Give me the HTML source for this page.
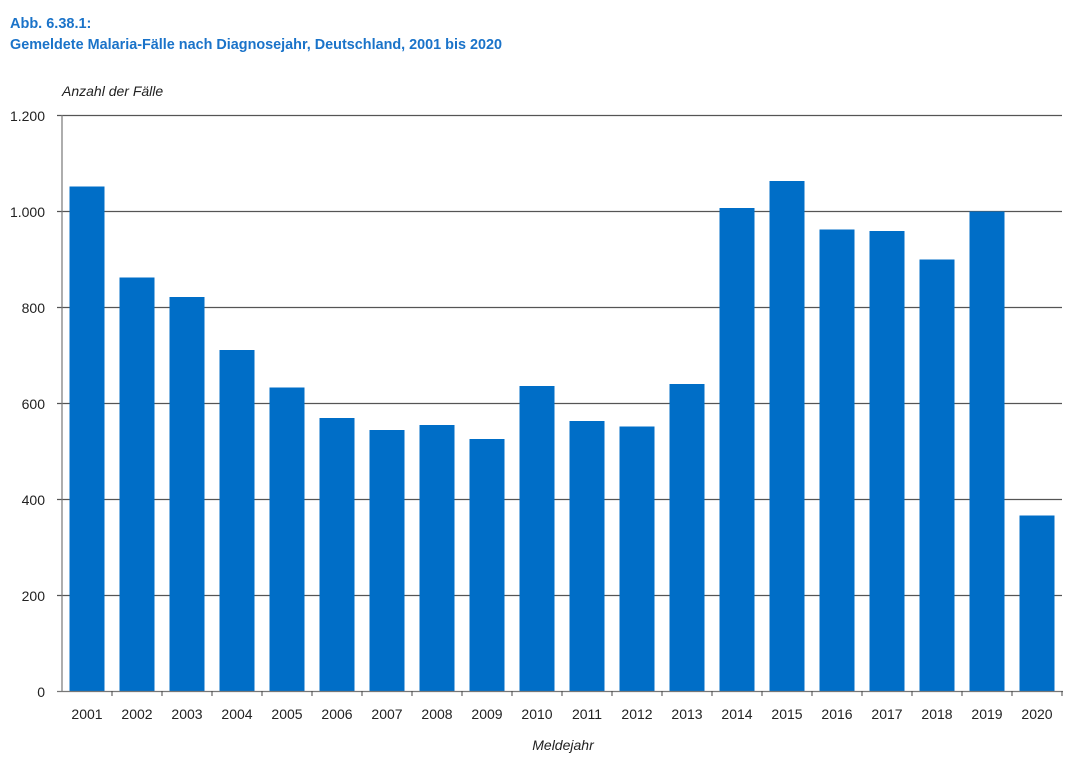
<!DOCTYPE html>
<html><head><meta charset="utf-8"><style>
html,body{margin:0;padding:0;background:#fff;}
svg{display:block;font-family:"Liberation Sans",sans-serif;}
</style></head><body>
<svg width="1080" height="767" viewBox="0 0 1080 767">
<text x="10" y="28" font-size="14.5" font-weight="bold" fill="#1a73c9">Abb. 6.38.1:</text>
<text x="10" y="49" font-size="14.5" font-weight="bold" fill="#1a73c9" textLength="492" lengthAdjust="spacingAndGlyphs">Gemeldete Malaria-Fälle nach Diagnosejahr, Deutschland, 2001 bis 2020</text>
<text x="62" y="96" font-size="14" font-style="italic" fill="#222">Anzahl der Fälle</text>
<g stroke="#555" stroke-width="1.2">
<line x1="57" y1="115.5" x2="1062" y2="115.5"/>
<line x1="57" y1="211.5" x2="1062" y2="211.5"/>
<line x1="57" y1="307.5" x2="1062" y2="307.5"/>
<line x1="57" y1="403.5" x2="1062" y2="403.5"/>
<line x1="57" y1="499.5" x2="1062" y2="499.5"/>
<line x1="57" y1="595.5" x2="1062" y2="595.5"/>
</g>
<g fill="#006ec7">
<rect x="69.5" y="186.5" width="35" height="505"/>
<rect x="119.5" y="277.5" width="35" height="414"/>
<rect x="169.5" y="297" width="35" height="394.5"/>
<rect x="219.5" y="350" width="35" height="341.5"/>
<rect x="269.5" y="387.5" width="35" height="304"/>
<rect x="319.5" y="418" width="35" height="273.5"/>
<rect x="369.5" y="430" width="35" height="261.5"/>
<rect x="419.5" y="425" width="35" height="266.5"/>
<rect x="469.5" y="439" width="35" height="252.5"/>
<rect x="519.5" y="386" width="35" height="305.5"/>
<rect x="569.5" y="421" width="35" height="270.5"/>
<rect x="619.5" y="426.5" width="35" height="265"/>
<rect x="669.5" y="384" width="35" height="307.5"/>
<rect x="719.5" y="208" width="35" height="483.5"/>
<rect x="769.5" y="181" width="35" height="510.5"/>
<rect x="819.5" y="229.5" width="35" height="462"/>
<rect x="869.5" y="231" width="35" height="460.5"/>
<rect x="919.5" y="259.5" width="35" height="432"/>
<rect x="969.5" y="211.5" width="35" height="480"/>
<rect x="1019.5" y="515.5" width="35" height="176"/>
</g>
<g stroke="#777" stroke-width="1.2">
<line x1="62" y1="115" x2="62" y2="692"/>
<line x1="57" y1="691.5" x2="1063" y2="691.5"/>
</g>
<g stroke="#444" stroke-width="1">
<line x1="112" y1="691" x2="112" y2="696"/><line x1="162" y1="691" x2="162" y2="696"/><line x1="212" y1="691" x2="212" y2="696"/><line x1="262" y1="691" x2="262" y2="696"/><line x1="312" y1="691" x2="312" y2="696"/><line x1="362" y1="691" x2="362" y2="696"/><line x1="412" y1="691" x2="412" y2="696"/><line x1="462" y1="691" x2="462" y2="696"/><line x1="512" y1="691" x2="512" y2="696"/><line x1="562" y1="691" x2="562" y2="696"/><line x1="612" y1="691" x2="612" y2="696"/><line x1="662" y1="691" x2="662" y2="696"/><line x1="712" y1="691" x2="712" y2="696"/><line x1="762" y1="691" x2="762" y2="696"/><line x1="812" y1="691" x2="812" y2="696"/><line x1="862" y1="691" x2="862" y2="696"/><line x1="912" y1="691" x2="912" y2="696"/><line x1="962" y1="691" x2="962" y2="696"/><line x1="1012" y1="691" x2="1012" y2="696"/><line x1="1062" y1="691" x2="1062" y2="696"/>
</g>
<g font-size="14" fill="#222" text-anchor="end">
<text x="45" y="121">1.200</text><text x="45" y="217">1.000</text><text x="45" y="313">800</text><text x="45" y="409">600</text><text x="45" y="505">400</text><text x="45" y="601">200</text><text x="45" y="697">0</text>
</g>
<g font-size="14" fill="#222" text-anchor="middle">
<text x="87" y="719">2001</text><text x="137" y="719">2002</text><text x="187" y="719">2003</text><text x="237" y="719">2004</text><text x="287" y="719">2005</text><text x="337" y="719">2006</text><text x="387" y="719">2007</text><text x="437" y="719">2008</text><text x="487" y="719">2009</text><text x="537" y="719">2010</text><text x="587" y="719">2011</text><text x="637" y="719">2012</text><text x="687" y="719">2013</text><text x="737" y="719">2014</text><text x="787" y="719">2015</text><text x="837" y="719">2016</text><text x="887" y="719">2017</text><text x="937" y="719">2018</text><text x="987" y="719">2019</text><text x="1037" y="719">2020</text>
</g>
<text x="563" y="750" font-size="14" font-style="italic" fill="#222" text-anchor="middle">Meldejahr</text>
</svg>
</body></html>
